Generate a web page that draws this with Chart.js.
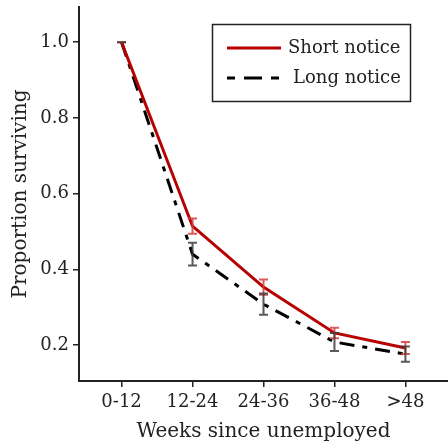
<!DOCTYPE html>
<html><head><meta charset="utf-8">
<script src="https://cdn.jsdelivr.net/npm/chart.js@4.4.0/dist/chart.umd.min.js"></script>
<style>html,body{margin:0;padding:0;background:#fff}#wrap{width:448px;height:444px}</style>
</head><body><div id="wrap"><canvas id="c" width="448" height="444"></canvas></div>
<script>
const categories = ["0-12", "12-24", "24-36", "36-48", ">48"];
const shortNotice = [1.0, 0.514, 0.353, 0.232, 0.192];
const shortErr = [0.0, 0.02, 0.02, 0.014, 0.016];
const longNotice = [1.0, 0.44, 0.308, 0.208, 0.176];
const longErr = [0.0, 0.03, 0.028, 0.024, 0.02];
const yTicks = [0.2, 0.4, 0.6, 0.8, 1.0];
const seriesNames = ["Short notice", "Long notice"];

const FONT = "'DejaVu Serif', serif";
const RED = '#b80000';
const DASH = [15, 8, 5, 8];

const errPlugin = {
  id: 'errbars',
  afterDatasetsDraw(chart) {
    const ctx = chart.ctx, xs = chart.scales.x, ys = chart.scales.y;
    const sets = [[shortNotice, shortErr, 'rgba(215,60,60,0.85)'], [longNotice, longErr, 'rgba(60,60,60,0.85)']];
    ctx.save();
    ctx.lineWidth = 2;
    sets.forEach(([vals, errs, col]) => {
      ctx.strokeStyle = col;
      vals.forEach((v, i) => {
        const x = xs.getPixelForValue(i);
        const y1 = ys.getPixelForValue(v - errs[i]);
        const y2 = ys.getPixelForValue(v + errs[i]);
        ctx.beginPath();
        ctx.moveTo(x, y1); ctx.lineTo(x, y2);
        ctx.moveTo(x - 4.5, y1); ctx.lineTo(x + 4.5, y1);
        ctx.moveTo(x - 4.5, y2); ctx.lineTo(x + 4.5, y2);
        ctx.stroke();
      });
    });
    ctx.restore();
  }
};

const legendPlugin = {
  id: 'boxlegend',
  afterDraw(chart) {
    const ctx = chart.ctx;
    ctx.save();
    ctx.strokeStyle = '#222';
    ctx.lineWidth = 1.5;
    ctx.strokeRect(212.5, 24.5, 198, 77);
    ctx.font = "18px " + FONT;
    ctx.fillStyle = '#222';
    ctx.textBaseline = 'middle';
    ctx.textAlign = 'left';
    ctx.strokeStyle = RED; ctx.lineWidth = 3; ctx.setLineDash([]);
    ctx.beginPath(); ctx.moveTo(227, 48); ctx.lineTo(281, 48); ctx.stroke();
    ctx.fillText(seriesNames[0], 288, 48);
    ctx.strokeStyle = '#000'; ctx.setLineDash([8, 9, 18, 9, 8]);
    ctx.beginPath(); ctx.moveTo(227, 78); ctx.lineTo(280, 78); ctx.stroke();
    ctx.setLineDash([]);
    ctx.fillText(seriesNames[1], 293, 78);
    ctx.restore();
  }
};

const toXY = arr => arr.map((v, i) => ({x: i, y: v}));

new Chart(document.getElementById('c'), {
  type: 'line',
  data: {
    datasets: [
      {label: seriesNames[0], data: toXY(shortNotice), borderColor: RED, borderWidth: 3, pointRadius: 0, tension: 0, fill: false},
      {label: seriesNames[1], data: toXY(longNotice), borderColor: '#000', borderWidth: 3, borderDash: DASH, pointRadius: 0, tension: 0, fill: false}
    ]
  },
  options: {
    responsive: false,
    animation: false,
    devicePixelRatio: 1,
    layout: {padding: {top: 7, right: 0, left: 0, bottom: 0}},
    plugins: {legend: {display: false}, tooltip: {enabled: false}},
    scales: {
      x: {
        type: 'linear', min: -0.6, max: 4.6,
        afterBuildTicks: s => { s.ticks = categories.map((c, i) => ({value: i})); },
        afterFit: s => { s.height = 63; s.paddingLeft = 0; s.paddingRight = 0; },
        ticks: {callback: v => categories[v], font: {family: FONT, size: 18}, color: '#222', padding: 5, maxRotation: 0, autoSkip: false},
        grid: {drawOnChartArea: false, drawTicks: true, tickLength: 6, color: '#222', lineWidth: 1.5},
        border: {display: true, color: '#222', width: 2},
        title: {display: true, text: 'Weeks since unemployed', font: {family: FONT, size: 20}, color: '#222', padding: {top: 0, bottom: 0}}
      },
      y: {
        type: 'linear', min: 0.105, max: 1.093,
        afterBuildTicks: s => { s.ticks = yTicks.map(v => ({value: v})); },
        afterFit: s => { s.width = 79; s.paddingTop = 0; s.paddingBottom = 0; },
        ticks: {callback: v => v.toFixed(1), font: {family: FONT, size: 18}, color: '#222', padding: 4},
        grid: {drawOnChartArea: false, drawTicks: true, tickLength: 6, color: '#222', lineWidth: 1.5},
        border: {display: true, color: '#222', width: 2},
        title: {display: true, text: 'Proportion surviving', font: {family: FONT, size: 20}, color: '#222', padding: {top: 9, bottom: 0}}
      }
    }
  },
  plugins: [errPlugin, legendPlugin]
});
</script></body></html>
